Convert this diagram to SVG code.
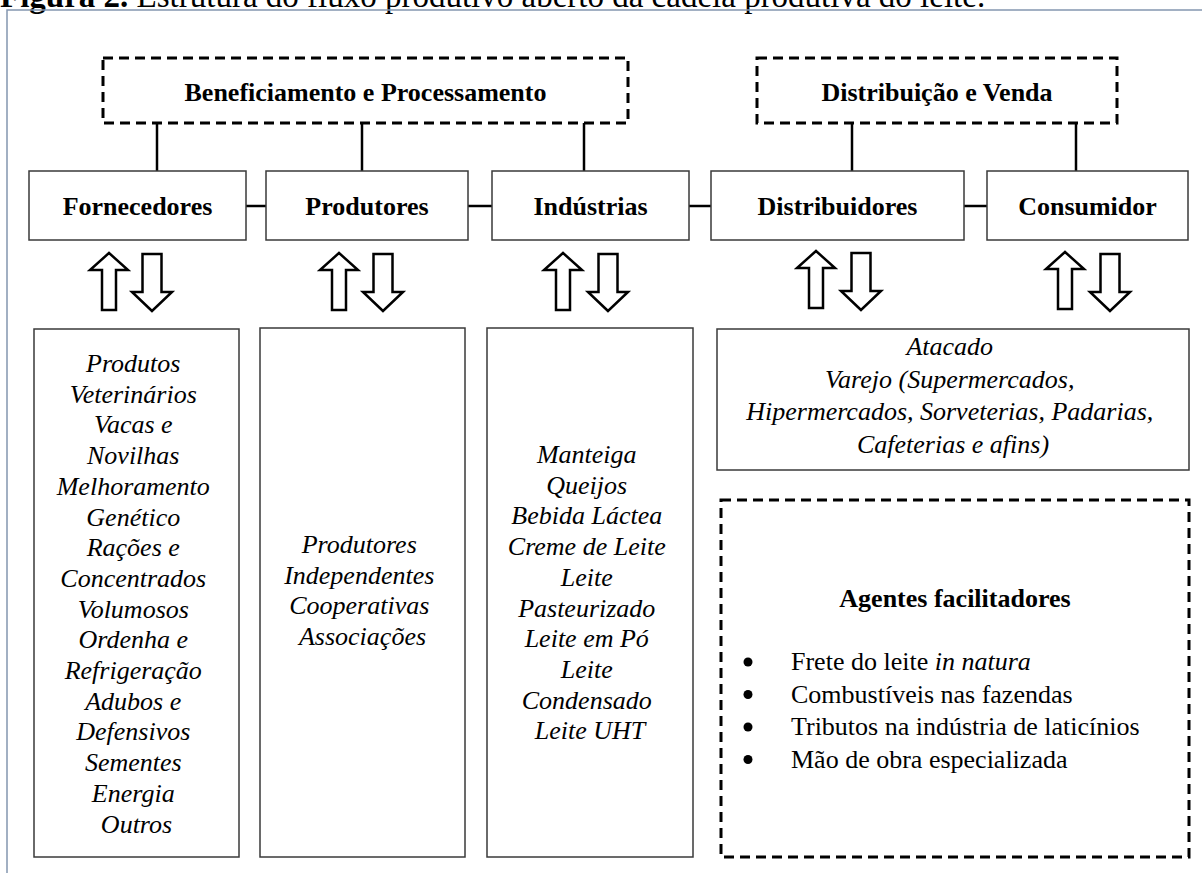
<svg xmlns="http://www.w3.org/2000/svg" width="1202" height="873" viewBox="0 0 1202 873">
<style>
.frame{fill:none;stroke:#8496b0;stroke-width:1.5}
.dash{fill:#fff;stroke:#000;stroke-width:3;stroke-dasharray:10 6}
.box{fill:#fff;stroke:#3a3a3a;stroke-width:1.5}
.con{stroke:#000;stroke-width:2.5;fill:none}
.arr{fill:#fff;stroke:#000;stroke-width:2.5;stroke-linejoin:miter}
.dot{fill:#000}
.t{font-family:"Liberation Serif","Times New Roman",serif;font-size:26px;fill:#000}
.b{font-weight:bold;text-anchor:middle}
.i{font-style:italic;text-anchor:middle}
.cap{font-family:"Liberation Serif","Times New Roman",serif;font-size:33px;fill:#000}
</style>
<defs>
<path id="up" d="M0,0 L19,17 L7,17 L7,57 L-7,57 L-7,17 L-19,17 Z"/>
<path id="down" d="M0,0 L-20,-19 L-9.5,-19 L-9.5,-57 L9.5,-57 L9.5,-19 L20,-19 Z"/>
</defs>
<rect width="1202" height="873" fill="#fff"/>
<text class="cap" x="0" y="7"><tspan font-weight="bold">Figura 2.</tspan> Estrutura do fluxo produtivo aberto da cadeia produtiva do leite.</text>
<rect class="frame" x="7" y="10" width="1215" height="885"/>

<g id="connectors">
<line class="con" x1="157" y1="123" x2="157" y2="171"/>
<line class="con" x1="362" y1="123" x2="362" y2="171"/>
<line class="con" x1="584" y1="123" x2="584" y2="171"/>
<line class="con" x1="852" y1="123" x2="852" y2="171"/>
<line class="con" x1="1076" y1="123" x2="1076" y2="171"/>
<line class="con" x1="246" y1="206" x2="266" y2="206"/>
<line class="con" x1="468" y1="206" x2="492" y2="206"/>
<line class="con" x1="689" y1="206" x2="711" y2="206"/>
<line class="con" x1="964" y1="206" x2="987" y2="206"/>
<use href="#up" class="arr" x="109" y="253"/>
<use href="#down" class="arr" x="152" y="311"/>
<use href="#up" class="arr" x="339" y="253"/>
<use href="#down" class="arr" x="383" y="311"/>
<use href="#up" class="arr" x="563" y="253"/>
<use href="#down" class="arr" x="608" y="311"/>
<use href="#up" class="arr" x="816" y="251"/>
<use href="#down" class="arr" x="861" y="310"/>
<use href="#up" class="arr" x="1065" y="252"/>
<use href="#down" class="arr" x="1110" y="311"/>
</g>

<g id="beneficiamento">
<rect class="dash" x="103" y="58" width="525" height="65"/>
<text class="t b" x="365.5" y="101">Beneficiamento e Processamento</text>
</g>
<g id="distribuicao">
<rect class="dash" x="757" y="58" width="360" height="65"/>
<text class="t b" x="937" y="101">Distribuição e Venda</text>
</g>

<g id="fornecedores">
<rect class="box" x="29" y="171" width="217" height="69"/>
<text class="t b" x="137.5" y="215">Fornecedores</text>
</g>
<g id="produtores">
<rect class="box" x="266" y="171" width="202" height="69"/>
<text class="t b" x="367" y="215">Produtores</text>
</g>
<g id="industrias">
<rect class="box" x="492" y="171" width="197" height="69"/>
<text class="t b" x="590.5" y="215">Indústrias</text>
</g>
<g id="distribuidores">
<rect class="box" x="711" y="171" width="253" height="69"/>
<text class="t b" x="837.5" y="215">Distribuidores</text>
</g>
<g id="consumidor">
<rect class="box" x="987" y="171" width="201" height="69"/>
<text class="t b" x="1087.5" y="215">Consumidor</text>
</g>

<g id="lista-fornecedores">
<rect class="box" x="34" y="329" width="205" height="528"/>
<text class="t i">
<tspan x="136.5" y="372">Produtos</tspan>
<tspan x="136.5" y="402.7">Veterinários</tspan>
<tspan x="136.5" y="433.4">Vacas e</tspan>
<tspan x="136.5" y="464.1">Novilhas</tspan>
<tspan x="136.5" y="494.8">Melhoramento</tspan>
<tspan x="136.5" y="525.5">Genético</tspan>
<tspan x="136.5" y="556.2">Rações e</tspan>
<tspan x="136.5" y="586.9">Concentrados</tspan>
<tspan x="136.5" y="617.6">Volumosos</tspan>
<tspan x="136.5" y="648.3">Ordenha e</tspan>
<tspan x="136.5" y="679">Refrigeração</tspan>
<tspan x="136.5" y="709.7">Adubos e</tspan>
<tspan x="136.5" y="740.4">Defensivos</tspan>
<tspan x="136.5" y="771.1">Sementes</tspan>
<tspan x="136.5" y="801.8">Energia</tspan>
<tspan x="136.5" y="832.5">Outros</tspan>
</text>
</g>

<g id="lista-produtores">
<rect class="box" x="260" y="328" width="205" height="529"/>
<text class="t i">
<tspan x="362.5" y="553">Produtores</tspan>
<tspan x="362.5" y="583.7">Independentes</tspan>
<tspan x="362.5" y="614.4">Cooperativas</tspan>
<tspan x="362.5" y="645.1">Associações</tspan>
</text>
</g>

<g id="lista-industrias">
<rect class="box" x="487" y="328" width="206" height="529"/>
<text class="t i">
<tspan x="590" y="463">Manteiga</tspan>
<tspan x="590" y="493.7">Queijos</tspan>
<tspan x="590" y="524.4">Bebida Láctea</tspan>
<tspan x="590" y="555.1">Creme de Leite</tspan>
<tspan x="590" y="585.8">Leite</tspan>
<tspan x="590" y="616.5">Pasteurizado</tspan>
<tspan x="590" y="647.2">Leite em Pó</tspan>
<tspan x="590" y="677.9">Leite</tspan>
<tspan x="590" y="708.6">Condensado</tspan>
<tspan x="590" y="739.3">Leite UHT</tspan>
</text>
</g>

<g id="lista-distribuidores">
<rect class="box" x="717" y="329" width="472" height="141"/>
<text class="t i">
<tspan x="953" y="355">Atacado</tspan>
<tspan x="953" y="387.5">Varejo (Supermercados,</tspan>
<tspan x="953" y="420">Hipermercados, Sorveterias, Padarias,</tspan>
<tspan x="953" y="452.5">Cafeterias e afins)</tspan>
</text>
</g>

<g id="agentes">
<rect class="dash" x="721" y="500" width="468" height="357" fill="none"/>
<text class="t b" x="955" y="607">Agentes facilitadores</text>
<circle class="dot" cx="748" cy="662" r="4.5"/>
<circle class="dot" cx="748" cy="694.5" r="4.5"/>
<circle class="dot" cx="748" cy="727" r="4.5"/>
<circle class="dot" cx="748" cy="759.5" r="4.5"/>
<text class="t" x="791" y="670">Frete do leite <tspan font-style="italic">in natura</tspan></text>
<text class="t" x="791" y="702.5">Combustíveis nas fazendas</text>
<text class="t" x="791" y="735">Tributos na indústria de laticínios</text>
<text class="t" x="791" y="767.5">Mão de obra especializada</text>
</g>
</svg>
